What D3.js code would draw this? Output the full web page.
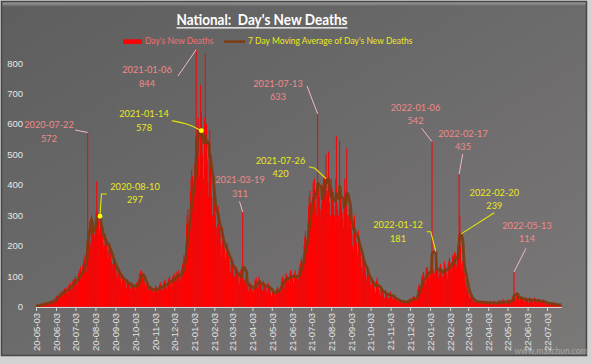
<!DOCTYPE html>
<html><head><meta charset="utf-8">
<script src="https://cdn.jsdelivr.net/npm/d3@7"></script>
<style>
body{margin:0;background:#d2d2d2;}
svg{display:block;font-family:Lato,"Liberation Sans",sans-serif;}
</style>
</head><body>
<svg id="c" width="592" height="364"></svg>
<script>
// ---------------- DATA ----------------
const startDate = "2020-05-03";
const daily2020 = [
  2,3,5,4,6,3,2, 8,10,7,9,12,5,4, 11,14,12,15,13,8,6, 16,19,17,22,20,12,10, 24,
  22,28,32,35,38,30,24, 40,46,42,50,52,38,32, 55,60,52,64,58,46,42, 66,72,68,80,74,58,52, 84,90,
  86,92,100,88,72,68,102, 110,120,115,130,95,85,135, 140,160,150,170,130,115,190, 572,220,240,280,210,190,300, 270,250,280,
  240,230,280,310,412,305,290, 280,240,250,270,260,240,230, 210,180,200,240,230,210,190, 180,160,200,210,190,170,150, 140,120,150,
  160,140,130,120,100,90,130, 120,110,100,95,80,70,105, 100,95,85,80,70,60,90, 85,80,75,70,60,50,80, 75,70,
  70,65,60,55,75,80,72, 85,90,110,95,120,100,115, 105,95,90,80,70,60,75, 70,65,55,50,60,68,62, 58,52,48,
  45,55,62,70,65,58,50, 48,60,72,75,80,66,55, 52,68,80,85,90,72,60, 58,78,90,95,100,85,70, 66,92,
  100,105,95,110,90,80,115, 110,105,120,100,95,85,120, 130,140,150,170,160,140,210, 270,300,320,280,260,250,380, 420,450,430
];
const daily2021 = [
  400,380,360,470,560,844,520, 580,620,490,430,560,728,640, 540,500,420,380,620,830,470, 600,480,410,360,540,580,500, 450,360,300,
  280,400,380,340,300,260,230, 270,330,300,260,240,200,170, 210,260,230,200,190,160,140, 180,210,190,170,150,120,110,
  140,160,150,130,120,100,90, 120,130,115,110,100,80,70, 110,120,105,95,311,90,75, 85,95,80,70,75,55,50, 70,80,65,
  75,60,55,50,45,70,90, 85,95,80,65,60,100,90, 80,75,70,55,50,85,80, 75,70,60,50,45,80,75, 70,60,
  45,35,30,55,60,50,45, 40,35,55,60,65,55,50, 60,45,70,85,95,100,90, 80,60,95,110,105,100,90, 85,70,110,
  120,115,105,95,80,75,110, 120,100,95,105,90,85,120, 130,140,150,160,140,120,170, 200,230,250,220,200,180,280, 330,360,
  380,340,300,290,360,410,390, 420,380,330,300,370,633,400, 390,360,320,290,340,380,400, 420,430,430,380,500,370,380, 360,510,340,
  280,300,420,390,380,350,330, 300,260,420,560,340,320,300, 280,545,380,360,330,310,290, 260,350,420,380,370,520,300, 250,300,330,
  320,290,260,240,200,180,280, 300,260,230,210,180,160,250, 220,200,180,160,130,110,170, 160,150,130,120,100,80,130, 110,100,
  95,85,70,60,80,90,85, 75,60,50,45,85,95,80, 70,55,40,35,65,60,55, 50,40,30,28,55,50,45, 42,30,25,
  30,45,50,40,35,25,20, 35,30,28,25,22,18,15, 25,22,20,18,15,12,10, 20,22,18,15,16,12,10, 18,22,
  20,25,28,22,18,15,30, 35,30,32,28,22,20,40, 55,65,75,70,60,55,95, 100,110,115,90,80,75,130, 120,130,115
];
const daily2022 = [
  110,95,100,125,115,542,150, 120,100,110,125,120,145,130, 115,95,105,130,140,120,110, 100,85,120,150,140,130,115, 105,90,140,
  150,160,145,130,110,135,170, 165,150,180,175,140,130,170, 200,230,435,300,200,140,120, 150,140,120,110,90,80,70,
  60,55,45,40,30,25,35, 30,25,20,18,15,12,20, 22,18,15,12,14,10,16, 20,15,12,18,14,10,15, 18,14,12,
  15,10,8,14,18,12,16, 12,9,7,15,20,14,10, 8,6,12,18,16,22,14, 12,8,10,20,25,18,16, 14,10,
  8,12,20,25,22,18,14, 12,20,28,30,35,114,25, 20,28,35,40,30,25,22, 18,30,35,32,28,22,20, 15,25,30,
  28,25,20,15,12,30,28, 25,22,18,14,10,28,30, 25,20,16,12,15,22,25, 20,16,14,10,18,24,20, 15,12,
  10,8,6,14,16,12,10, 8,6,5,12,14,10,8, 6,5,4,10,8,6,5, 4,3,6,5
];
const yTicks = [0,100,200,300,400,500,600,700,800];
const tickLabels = ["20-05-03","20-06-03","20-07-03","20-08-03","20-09-03","20-10-03","20-11-03","20-12-03",
  "21-01-03","21-02-03","21-03-03","21-04-03","21-05-03","21-06-03","21-07-03","21-08-03","21-09-03","21-10-03",
  "21-11-03","21-12-03","22-01-03","22-02-03","22-03-03","22-04-03","22-05-03","22-06-03","22-07-03"];
const titleText = "National:  Day's New Deaths";
const seriesNames = ["Day's New Deaths", "7 Day Moving Average of Day's New Deaths"];
const barNoteDates = ["2020-07-22","2021-01-06","2021-03-19","2021-07-13","2022-01-06","2022-02-17","2022-05-13"];
const barNoteValues = [572,844,311,633,542,435,114];
const maNoteDates = ["2020-08-10","2021-01-14","2021-07-26","2022-01-12","2022-02-20"];
const maNoteValues = [297,578,420,181,239];
const watermark = "www.maxchun.com";

// ---------------- LAYOUT ----------------
const barNoteLayout = [
  {lx:49,  ly:125,   leader:[[75,130]]},
  {lx:147, ly:70,    leader:[[178,76]]},
  {lx:240, ly:180,   leader:[[239.5,201.5]]},
  {lx:278, ly:83.5,  leader:[[307,86]]},
  {lx:415.5, ly:107.5, leader:[[421.7,128.3]]},
  {lx:463, ly:133.3, leader:[[462.7,154]]},
  {lx:527, ly:225.7, leader:[[526,248.3]]}
];
const maNoteLayout = [
  {lx:135, ly:186.7, leader:[[106.7,194],[101.5,194]], dot:true, curve:false},
  {lx:144, ly:114,   leader:[[171.7,120.7],[186.7,123.3]], dot:true, curve:true},
  {lx:280.5, ly:160.7, leader:[[309,166.7],[315,168.3]], dot:false, curve:false},
  {lx:398, ly:225,   leader:[[426.7,231.7],[430.7,231.7]], dot:false, curve:false},
  {lx:494.3, ly:192.3, leader:[[494.3,212.7]], dot:false, curve:false}
];

const PINK = "#f08a8a", PINKLINE = "#f2b8c4", YEL = "#eaea1e", YELLINE = "#e6e600";
const BROWN = "#7e3c10";

// ---------------- BUILD ----------------
const svg = d3.select("#c");
const defs = svg.append("defs");
const g1 = defs.append("linearGradient").attr("id","bg").attr("x1","0").attr("y1","0").attr("x2","1").attr("y2","1");
g1.append("stop").attr("offset","0").attr("stop-color","#5e5e5e");
g1.append("stop").attr("offset","1").attr("stop-color","#7b7878");
const g2 = defs.append("linearGradient").attr("id","bevel").attr("x1","0").attr("y1","0").attr("x2","0").attr("y2","1");
g2.append("stop").attr("offset","0").attr("stop-color","#9a9a9a");
g2.append("stop").attr("offset","1").attr("stop-color","#646464");

svg.append("rect").attr("x",1.5).attr("y",1.5).attr("width",585).attr("height",354)
  .attr("fill","url(#bg)").attr("stroke","#474747").attr("stroke-width",1.5);
svg.append("rect").attr("x",2.5).attr("y",2.5).attr("width",583).attr("height",4).attr("fill","url(#bevel)");

const parseDay = d3.utcParse("%Y-%m-%d");
const parseTick = d3.utcParse("%y-%m-%d");
const t0 = parseDay(startDate);
const values = daily2020.concat(daily2021, daily2022);
const N = values.length;
const data = values.map((v,i)=>({date:d3.utcDay.offset(t0,i), v:v}));
data.forEach((d,i)=>{
  const w = data.slice(Math.max(0,i-6), i+1);
  d.ma = d3.mean(w, e=>e.v);
});

const x = d3.scaleUtc().domain([t0, d3.utcDay.offset(t0, N)]).range([36, 36 + N*0.646]);
const y = d3.scaleLinear().domain([0,800]).range([306.7, 63]);

// bars
svg.append("g").selectAll("rect").data(data).join("rect")
  .attr("x", d=>x(d.date)-0.5).attr("width",1)
  .attr("y", d=>y(d.v)).attr("height", d=>y(0)-y(d.v))
  .attr("fill","#ff0000");

// MA line
svg.append("path").datum(data)
  .attr("d", d3.line().x(d=>x(d.date)).y(d=>y(d.ma)))
  .attr("fill","none").attr("stroke",BROWN).attr("stroke-width",2.8).attr("stroke-linejoin","round").attr("opacity",0.92);

// x axis
const xa = svg.append("g").attr("transform","translate(0,307)")
  .call(d3.axisBottom(x).tickValues(tickLabels.map(parseTick)).tickFormat(d3.utcFormat("%y-%m-%d")).tickSize(4).tickSizeOuter(0));
xa.select(".domain").attr("stroke","#d8d8d8").attr("stroke-width",1.2).attr("d", `M${x(t0)},0.5H${x(d3.utcDay.offset(t0,N))}`);
xa.selectAll(".tick line").attr("stroke","#d8d8d8");
xa.selectAll("text").attr("transform","rotate(-90)").attr("text-anchor","end")
  .attr("x",-6).attr("y",0).attr("dy","0.35em").attr("fill","#e4e4e4").attr("font-size","9.5px");

// y axis
const ya = svg.append("g").attr("transform","translate(36,0)")
  .call(d3.axisLeft(y).tickValues(yTicks).tickSize(0).tickPadding(13));
ya.select(".domain").remove();
ya.selectAll("text").attr("fill","#e6e6e6").attr("font-size","9.5px");

// title
svg.append("text").attr("x",262).attr("y",25).attr("text-anchor","middle")
  .attr("fill","#ffffff").attr("font-weight","bold").attr("font-size","16px")
  .style("white-space","pre").attr("xml:space","preserve")
  .attr("textLength",171).attr("lengthAdjust","spacingAndGlyphs").text(titleText);
svg.append("line").attr("x1",176.5).attr("x2",347.5).attr("y1",27.8).attr("y2",27.8).attr("stroke","#ffffff").attr("stroke-width",1.2);

// legend
svg.append("rect").attr("x",123).attr("y",39.3).attr("width",19).attr("height",4.6).attr("fill","#ff0000");
svg.append("text").attr("x",145).attr("y",44.2).attr("fill","#f07070").attr("font-size","8.5px").text(seriesNames[0]);
svg.append("line").attr("x1",224).attr("x2",245).attr("y1",41.6).attr("y2",41.6).attr("stroke",BROWN).attr("stroke-width",2.5);
svg.append("text").attr("x",248).attr("y",44.2).attr("fill",YEL).attr("font-size","8.5px").text(seriesNames[1]);

// annotations
const ann = svg.append("g").attr("font-size","9.2px").attr("text-anchor","middle");
barNoteDates.forEach((ds,i)=>{
  const L = barNoteLayout[i];
  const ax = x(parseDay(ds)), ay = y(barNoteValues[i]);
  const pts = L.leader.concat([[ax,ay]]);
  ann.append("path").attr("d", d3.line()(pts)).attr("fill","none").attr("stroke",PINKLINE).attr("stroke-width",1);
  ann.append("text").attr("x",L.lx).attr("y",L.ly).attr("dy","0.35em").attr("fill",PINK).text(ds);
  ann.append("text").attr("x",L.lx).attr("y",L.ly+13.5).attr("dy","0.35em").attr("fill",PINK).text(barNoteValues[i]);
});
maNoteDates.forEach((ds,i)=>{
  const L = maNoteLayout[i];
  const ax = x(parseDay(ds)), ay = y(maNoteValues[i]);
  const pts = L.leader.concat([[ax,ay]]);
  const lg = L.curve ? d3.line().curve(d3.curveBasis) : d3.line();
  ann.append("path").attr("d", lg(pts)).attr("fill","none").attr("stroke",YELLINE).attr("stroke-width",1.1);
  if (L.dot) ann.append("circle").attr("cx",ax).attr("cy",ay).attr("r",2.4).attr("fill","#ffff00");
  ann.append("text").attr("x",L.lx).attr("y",L.ly).attr("dy","0.35em").attr("fill",YEL).text(ds);
  ann.append("text").attr("x",L.lx).attr("y",L.ly+13.5).attr("dy","0.35em").attr("fill",YEL).text(maNoteValues[i]);
});

// watermark
svg.append("text").attr("x",551).attr("y",354).attr("text-anchor","middle").attr("font-size","8.5px")
  .attr("fill","#ffffff").attr("fill-opacity",0.35).text(watermark);
</script>
</body></html>
